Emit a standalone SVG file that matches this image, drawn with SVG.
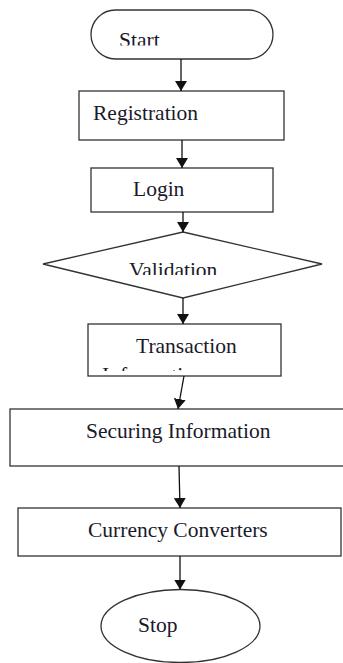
<svg xmlns="http://www.w3.org/2000/svg" width="343" height="663" viewBox="0 0 343 663">
<style>
.shape{fill:#fff;stroke:#333;stroke-width:1.3}
.lbl{font-family:"Liberation Serif","Times New Roman",serif;font-size:21.5px;fill:#1a1a2a}
.conn{stroke:#111;stroke-width:1.3;fill:none;marker-end:url(#ah)}
</style>
<defs>
<marker id="ah" viewBox="0 0 10 12" refX="10" refY="6" markerWidth="10" markerHeight="12" markerUnits="userSpaceOnUse" orient="auto">
<path d="M0,0 L10,6 L0,12 Z" fill="#111"/>
</marker>
<clipPath id="clipStart"><rect x="91" y="10" width="182" height="35.5"/></clipPath>
<clipPath id="clipVal"><rect x="40" y="230" width="290" height="45"/></clipPath>
<clipPath id="clipTrans"><rect x="88" y="324" width="193" height="47"/></clipPath>
</defs>
<rect width="343" height="663" fill="#fff"/>
<g id="start">
<rect class="shape" x="91" y="10" width="182" height="49" rx="24.5"/>
<text class="lbl" x="119" y="46.5" clip-path="url(#clipStart)">Start</text>
</g>
<g id="registration">
<rect class="shape" x="79" y="91" width="205" height="49"/>
<text class="lbl" x="93" y="120">Registration</text>
</g>
<g id="login">
<rect class="shape" x="91" y="168" width="182" height="44"/>
<text class="lbl" x="133" y="196">Login</text>
</g>
<g id="validation">
<polygon class="shape" points="183,232 322,264 183,298 43,264"/>
<text class="lbl" x="129" y="276.5" clip-path="url(#clipVal)">Validation</text>
</g>
<g id="transaction">
<rect class="shape" x="88" y="324" width="193" height="52"/>
<text class="lbl" x="136" y="353">Transaction</text>
<text class="lbl" x="102" y="382" clip-path="url(#clipTrans)">Information</text>
</g>
<g id="securing">
<rect class="shape" x="10" y="409" width="345" height="57"/>
<text class="lbl" x="86" y="438" font-size="22">Securing Information</text>
</g>
<g id="currency">
<rect class="shape" x="18" y="508" width="323" height="48"/>
<text class="lbl" x="88" y="537" font-size="22">Currency Converters</text>
</g>
<g id="stop">
<ellipse class="shape" cx="180.5" cy="626" rx="79.5" ry="36.5"/>
<text class="lbl" x="138" y="632">Stop</text>
</g>
<g id="connectors">
<line class="conn" x1="181" y1="59" x2="181" y2="91"/>
<line class="conn" x1="182" y1="140" x2="182" y2="168"/>
<line class="conn" x1="183" y1="212" x2="183" y2="232"/>
<line class="conn" x1="183" y1="298" x2="183" y2="324"/>
<line class="conn" x1="184" y1="376" x2="178" y2="409"/>
<line class="conn" x1="179" y1="466" x2="180" y2="508"/>
<line class="conn" x1="180" y1="556" x2="180" y2="589.5"/>
</g>
</svg>
